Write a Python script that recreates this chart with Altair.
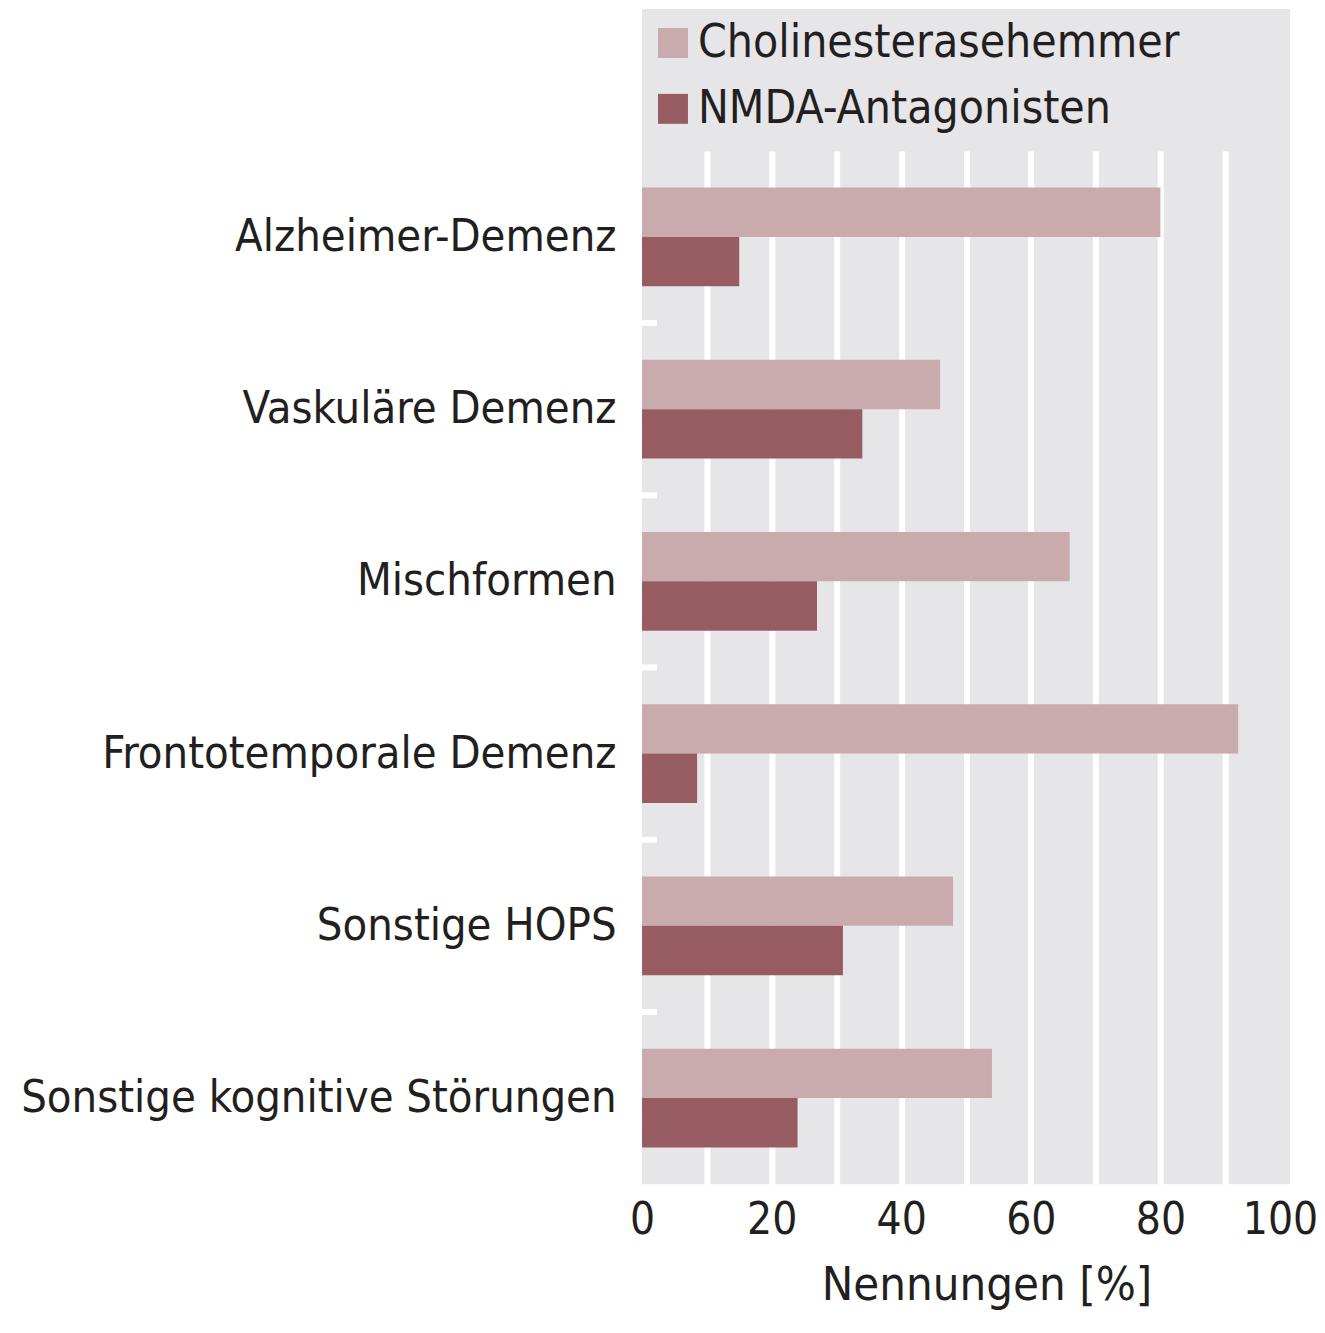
import altair as alt
import pandas as pd

categories = [
    "Alzheimer-Demenz",
    "Vaskuläre Demenz",
    "Mischformen",
    "Frontotemporale Demenz",
    "Sonstige HOPS",
    "Sonstige kognitive Störungen",
]
series = ["Cholinesterasehemmer", "NMDA-Antagonisten"]
cholin = [80, 46, 66, 92, 48, 54]
nmda = [15, 34, 27, 8.5, 31, 24]
colors = ["#c9aaad", "#975b62"]
x_ticks = [0, 10, 20, 30, 40, 50, 60, 70, 80, 90, 100]

rows = []
for c, a, b in zip(categories, cholin, nmda):
    rows.append({"Kategorie": c, "Serie": series[0], "Wert": a})
    rows.append({"Kategorie": c, "Serie": series[1], "Wert": b})
df = pd.DataFrame(rows)
bdf = pd.DataFrame({"b": list(range(1, len(categories)))})

FONT = "DejaVu Sans Condensed"
TXT = "#231f20"
GREY = "#e6e6e8"
W, H = 649, 1035

bars = alt.Chart(df).mark_bar().encode(
    x=alt.X(
        "Wert:Q",
        scale=alt.Scale(domain=[0, 100], nice=False),
        axis=alt.Axis(
            values=x_ticks,
            labelExpr="datum.value % 20 == 0 ? datum.label : ''",
            labelFlush=False,
            labelOffset={"condition": {"test": "datum.value == 100", "value": -10}, "value": 0},
            title="Nennungen [%]",
            grid=True,
            gridColor={"condition": {"test": "datum.value == 0 || datum.value == 100", "value": "transparent"}, "value": "white"},
            gridWidth=6,
            ticks=False,
            domain=False,
            labelFontSize=44,
            labelPadding=14,
            titleFontSize=47,
            titleFontWeight="normal",
            titlePadding=20,
            titleX=345,
        ),
    ),
    y=alt.Y(
        "Kategorie:N",
        sort=categories,
        scale=alt.Scale(paddingInner=0.426, paddingOuter=0.213),
        axis=alt.Axis(title=None, ticks=False, domain=False, labelFontSize=45,
                      labelPadding=26, labelLimit=0),
    ),
    yOffset=alt.YOffset("Serie:N", sort=series, scale=alt.Scale(paddingInner=0, paddingOuter=0)),
    color=alt.Color(
        "Serie:N",
        sort=series,
        scale=alt.Scale(domain=series, range=colors),
        legend=alt.Legend(
            title=None,
            orient="none",
            legendX=8,
            legendY=-131,
            symbolType="square",
            symbolSize=900,
            symbolStrokeWidth=0,
            symbolOpacity=1,
            labelFontSize=46,
            labelFont=FONT,
            labelColor=TXT,
            labelOffset=2,
            rowPadding=20,
            padding=0,
            labelLimit=0,
        ),
    ),
)

sep = alt.Chart(bdf).mark_rule(color="white", strokeWidth=6).encode(
    y=alt.Y("b:Q", scale=alt.Scale(domain=[0, len(categories)], reverse=True, nice=False), axis=None),
    x=alt.value(0),
    x2=alt.value(15),
)

top = alt.Chart(pd.DataFrame({"a": [0]})).mark_rect(color=GREY, strokeWidth=0).encode(
    x=alt.value(0), x2=alt.value(W), y=alt.value(-142), y2=alt.value(0.5)
)

chart = (
    alt.layer(top, bars, sep)
    .resolve_scale(y="independent")
    .properties(
        width=W,
        height=H,
        autosize=alt.AutoSizeParams(type="none"),
        padding={"left": 635, "top": 142, "right": 27, "bottom": 130},
    )
    .configure_view(fill=GREY, strokeWidth=0)
    .configure_axis(labelFont=FONT, titleFont=FONT, labelColor=TXT, titleColor=TXT)
    .configure_legend(labelFont=FONT)
)

chart.save("out.html", embed_options={"renderer": "svg", "actions": False})
